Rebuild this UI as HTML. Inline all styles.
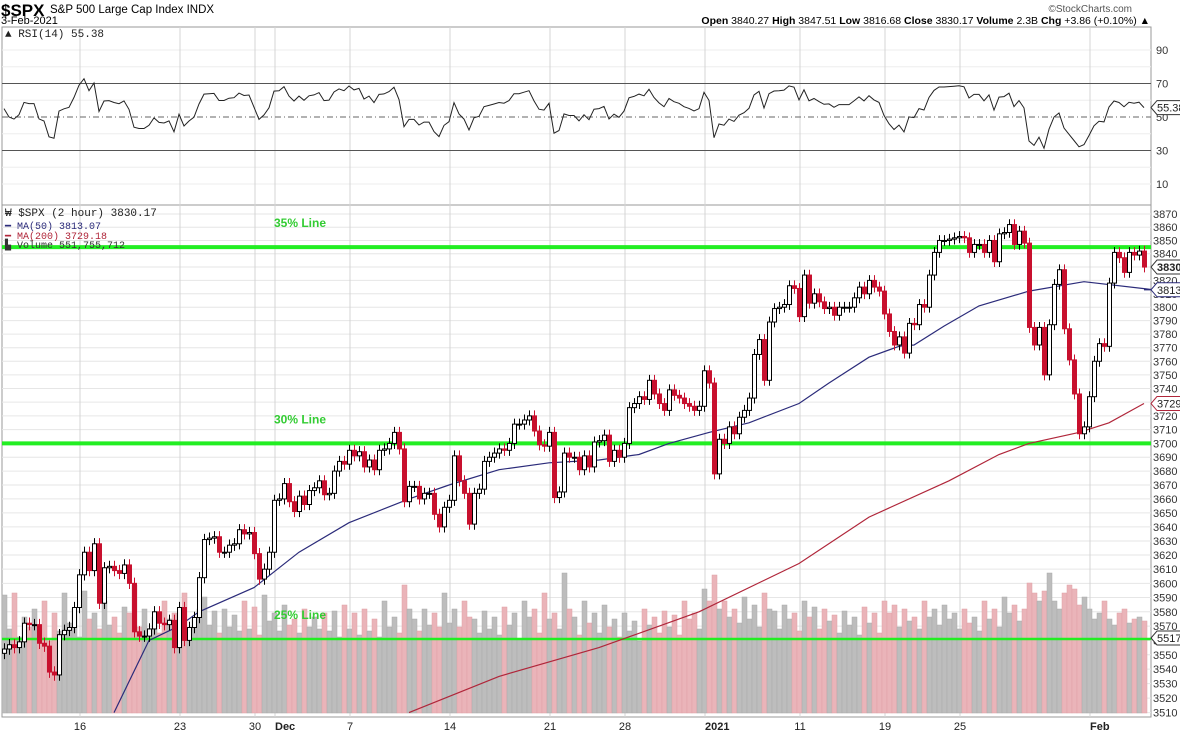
<!DOCTYPE html>
<html><head><meta charset="utf-8"><style>
body{margin:0;background:#fff;width:1180px;height:731px;overflow:hidden;font-family:"Liberation Sans",sans-serif}
svg{display:block}
</style></head><body>
<svg id="chart" width="1180" height="731" xmlns="http://www.w3.org/2000/svg" font-family="Liberation Sans, sans-serif">
<g>
<text x="1" y="16" font-size="17" font-weight="bold">$SPX</text>
<text x="50" y="13" font-size="11.5">S&amp;P 500 Large Cap Index INDX</text>
<text x="1" y="24" font-size="11">3-Feb-2021</text>
<text x="1132" y="12" font-size="10" fill="#555" text-anchor="end">©StockCharts.com</text>
<text x="1150" y="24" font-size="10.5" text-anchor="end"><tspan font-weight="bold">Open</tspan> 3840.27 <tspan font-weight="bold">High</tspan> 3847.51 <tspan font-weight="bold">Low</tspan> 3816.68 <tspan font-weight="bold">Close</tspan> 3830.17 <tspan font-weight="bold">Volume</tspan> 2.3B <tspan font-weight="bold">Chg</tspan> +3.86 (+0.10%) ▲</text>
</g>
<g id="grid"></g>
<g id="vol"></g>
<g id="lines"></g>
<g id="candles"></g>
<g id="axes"></g>
</svg>
<script>
const closes=[3554,3557,3555,3559,3572,3571,3571,3558,3556,3538,3536,3564,3567,3569,3583,3606,3622,3609,3628,3586,3611,3612,3609,3607,3613,3600,3566,3563,3563,3568,3580,3572,3571,3574,3555,3583,3560,3569,3576,3604,
3631,3632,3633,3622,3622,3627,3628,3638,3635,3636,3621,3603,3610,3622,3659,3660,3671,3658,3651,3662,3656,3666,3668,3673,3663,3664,3680,3687,3685,3695,3691,3694,3683,3688,3681,3695,3696,3700,3708,3696,3658,3669,3669,3660,3664,3664,3649,3640,
3654,3659,3691,3673,3664,3642,3664,3667,3687,3690,3693,3696,3695,3700,3714,3714,3717,3720,3709,3699,3698,3708,3661,3665,3693,3690,3690,3681,3691,3683,3701,3702,3706,3687,3695,3690,3700,3726,3729,3734,3732,3746,3736,3729,3724,3739,3735,3733,
3729,3727,3724,3727,3753,3744,3678,3703,3700,3712,3707,3719,3724,3733,3765,3776,3746,3789,3799,3800,3802,3816,3814,3793,3824,3803,3810,3804,3799,3800,3794,3800,3800,3800,3807,3815,3810,3820,3815,3812,3795,3782,3772,3778,3766,3788,3787,3802,
3800,3824,3841,3850,3850,3851,3852,3853,3852,3841,3847,3847,3841,3850,3834,3855,3856,3862,3847,3857,3848,3785,3772,3785,3750,3787,3817,3828,3784,3761,3736,3707,3712,3734,3760,3773,3771,3818,3841,3837,3826,3841,3839,3842,3830];
const volumes=[590,420,600,380,480,430,520,400,560,360,500,410,600,450,520,380,610,470,500,420,560,440,480,400,530,500,640,430,520,380,480,400,560,470,500,380,600,420,470,520,
580,440,510,400,520,430,490,410,560,420,530,390,590,460,500,410,540,440,470,400,520,430,480,420,500,410,510,380,540,420,500,390,520,410,470,380,560,430,480,400,640,520,470,410,520,440,500,430,
600,450,520,430,560,480,470,400,510,420,480,390,530,440,500,370,560,480,520,400,600,470,500,420,700,520,480,390,560,450,500,400,540,430,470,380,500,410,460,360,520,440,480,400,510,430,490,390,
560,470,500,420,620,560,690,520,560,480,520,450,580,470,540,430,600,520,510,420,540,470,500,410,560,480,530,420,520,460,490,400,510,440,480,390,530,450,500,400,560,500,540,430,520,460,480,420,
560,480,520,440,540,470,500,420,520,450,480,410,560,470,520,430,580,500,540,460,520,650,600,560,610,700,560,520,600,640,620,540,580,520,470,500,560,470,440,500,520,450,470,480,460];
const maIdx50=[22,29,35,39,50,59,69,81,89,99,109,119,127,133,141,149,159,165,173,179,182,188,195,205,216,230,228];
const ma50=[3510,3560,3570,3580,3597,3622,3643,3660,3670,3681,3686,3688,3692,3700,3708,3715,3729,3744,3763,3771,3772,3786,3801,3812,3819,3813,3813];
const maIdx200=[81,99,119,139,159,173,189,199,205,215,221,228];
const ma200=[3510,3535,3555,3580,3614,3647,3673,3692,3700,3708,3715,3729];
const priceTicks=[3510,3520,3530,3540,3550,3560,3570,3580,3590,3600,3610,3620,3630,3640,3650,3660,3670,3680,3690,3700,3710,3720,3730,3740,3750,3760,3770,3780,3790,3800,3810,3820,3830,3840,3850,3860,3870];
const rsiTicks=[10,30,50,70,90];
const dateLabels=["16","23","30","Dec","7","14","21","28","2021","11","19","25","Feb"];
const dateIdx=[15,35,50,54,69,89,109,124,140,159,176,191,217];
const supportLevels=[3845,3700,3561];
const supportNames=["35% Line","30% Line","25% Line"];

const NS="http://www.w3.org/2000/svg";
const X0=4,STEP=5,LEFT=2,RIGHT=1151,PTOP=205,PBOT=717;
const xs=i=>X0+STEP*i;
const yp=p=>214+5107*Math.log(3870/p);
const yr=v=>117-(v-50)*1.675;
const yv=v=>713-v*0.2;
function mk(tag,attrs,parent){const e=document.createElementNS(NS,tag);for(const k in attrs)e.setAttribute(k,attrs[k]);parent.appendChild(e);return e;}
const G=id=>document.getElementById(id);

const grid=G('grid');
let r=mk('rect',{x:LEFT,y:27,width:RIGHT-LEFT,height:178,fill:'none',stroke:'#999'},grid);


r=mk('rect',{x:LEFT,y:PTOP,width:RIGHT-LEFT,height:PBOT-PTOP,fill:'none',stroke:'#999'},grid);


priceTicks.forEach(p=>{const l=mk('line',{x1:LEFT,x2:RIGHT,y1:yp(p),y2:yp(p),stroke:'#e6e6e6'},grid);

});
[20,40,60,80,90,10].forEach(v=>{const l=mk('line',{x1:LEFT,x2:RIGHT,y1:yr(v),y2:yr(v),stroke:'#eee'},grid);

});
dateIdx.forEach(i=>{const l=mk('line',{x1:xs(i)+1,x2:xs(i)+1,y1:27,y2:PBOT,stroke:'#d4d4d4'},grid);

});
[[70,'#555','none'],[30,'#555','none'],[50,'#666','6,3,1,3']].forEach(([v,c,d])=>{const l=mk('line',{x1:LEFT,x2:RIGHT,y1:yr(v),y2:yr(v),stroke:c,'stroke-dasharray':d},grid);

});

const vol=G('vol');
closes.forEach((c,i)=>{const prev=i?closes[i-1]:c;const up=c>=prev;const y=yv(volumes[i]);
const b=mk('rect',{x:xs(i)-2,y:y,width:5,height:713-y,fill:up?'#bdbdbd':'#eab4b9',stroke:up?'#aaa':'#dfa0a6','stroke-width':0.5},vol);

});

const lines=G('lines');
supportLevels.forEach((p,k)=>{const l=mk('line',{x1:LEFT,x2:RIGHT,y1:yp(p),y2:yp(p),stroke:'#22ee22','stroke-width':k<2?4:2.5},lines);


const t=mk('text',{x:274,y:yp(p)-20,'font-size':12,'font-weight':'bold',fill:'#33cc33'},lines);t.textContent=supportNames[k];

});

function poly(idx,vals,color,name){const pts=idx.map((i,k)=>xs(i)+','+yp(vals[k]).toFixed(1)).join(' ');
const p=mk('polyline',{points:pts,fill:'none',stroke:color,'stroke-width':1.2},lines);

}
poly(maIdx50,ma50,'#2b2b7a','ma50-line');
poly(maIdx200,ma200,'#b0263a','ma200-line');

let ag=0,al=0;const rsi=[];
for(let i=0;i<closes.length;i++){if(i===0){rsi.push(55);continue;}const d=closes[i]-closes[i-1];const g=Math.max(d,0),l=Math.max(-d,0);
if(i===1){ag=g||3;al=l||3;}else{ag=(ag*13+g)/14;al=(al*13+l)/14;}rsi.push(al===0?100:100-100/(1+ag/al));}
const rp=mk('polyline',{points:rsi.map((v,i)=>xs(i)+','+yr(v).toFixed(1)).join(' '),fill:'none',stroke:'#222','stroke-width':1},lines);



const cg=G('candles');
closes.forEach((c,i)=>{const o=i?closes[i-1]:c-3;const up=c>=o;const col=up?'#000':'#c8102e';
const top=yp(Math.max(o,c)),bot=yp(Math.min(o,c));
const w=mk('line',{x1:xs(i)+0.5,x2:xs(i)+0.5,y1:yp(Math.max(o,c)+4),y2:yp(Math.min(o,c)-4),stroke:col,'stroke-width':1},cg);


const b=mk('rect',{x:xs(i)-1.5,y:top,width:4,height:Math.max(bot-top,1),fill:up?'#fff':col,stroke:col,'stroke-width':1},cg);

});

const ax=G('axes');
priceTicks.forEach(p=>{const t=mk('text',{x:1153,y:yp(p)+4,'font-size':11,fill:'#333'},ax);t.textContent=p;

});
rsiTicks.forEach(v=>{const t=mk('text',{x:1156,y:yr(v)+4,'font-size':11,fill:'#333'},ax);t.textContent=v;

});
dateLabels.forEach((s,k)=>{const bold=(s==='Dec'||s==='2021'||s==='Feb');const t=mk('text',{x:xs(dateIdx[k])+1,y:730,'font-size':11,'text-anchor':bold?'start':'middle','font-weight':bold?'bold':'normal',fill:'#222'},ax);t.textContent=s;

});
function tag(y,txt,col,bold,name){mk('path',{d:`M1151 ${y} l6 -7 h30 v14 h-30 z`,fill:'#fff',stroke:col},ax);
const t=mk('text',{x:1157,y:y+4,'font-size':11,'font-weight':bold?'bold':'normal',fill:'#222'},ax);t.textContent=txt;

}
tag(yp(closes[closes.length-1]),'3830.','#333',true,'last-price-tag');
tag(yp(ma50[ma50.length-1]),'3813.','#2b2b7a',false,'ma50-tag');
tag(yp(ma200[ma200.length-1]),'3729.','#b0263a',false,'ma200-tag');
tag(638,'55175','#333',false,'volume-tag');
tag(yr(rsi[rsi.length-1]),'55.38','#333',false,'rsi-tag');

const L=[[5,37,'▲ RSI(14) 55.38','#222',11,'rsi-legend'],[5,216,'₩ $SPX (2 hour) 3830.17','#222',11,'price-legend'],[5,229,'━ MA(50) 3813.07','#2b2b7a',10,'ma50-legend'],[5,239,'━ MA(200) 3729.18','#b0263a',10,'ma200-legend'],[5,248,'▙ Volume 551,755,712','#333',10,'volume-legend']];
L.forEach(([x,y,s,c,f,n])=>{const t=mk('text',{x:x,y:y,'font-size':f,fill:c,'font-family':'Liberation Mono, monospace'},ax);t.textContent=s;

});
</script>
</body></html>
